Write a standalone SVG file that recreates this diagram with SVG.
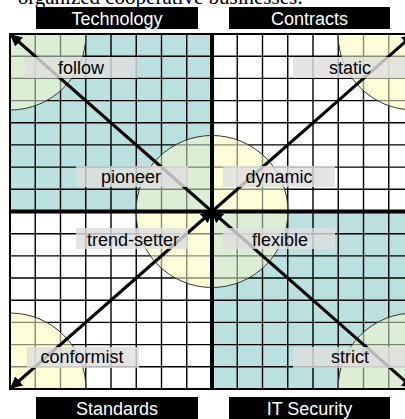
<svg xmlns="http://www.w3.org/2000/svg" width="405" height="419" viewBox="0 0 405 419">
<style>
.hdr{fill:#000}
.hdrt{fill:#fff;font-family:"Liberation Sans",Arial,sans-serif;font-size:18px;text-anchor:middle}
.lbl{fill:#dedede;fill-opacity:0.82}
.lblt{fill:#000;font-family:"Liberation Sans",Arial,sans-serif;font-size:18px;text-anchor:middle}
.grid{stroke:#000;stroke-width:1.4;fill:none}
.circ{stroke:#333;stroke-width:1;fill:none}
.diag{stroke:#000;stroke-width:3;fill:none}
.g{fill:#dcefd4}
.y{fill:#fdfdd8}
</style>
<defs>
<clipPath id="gc"><rect x="10" y="34" width="404" height="355"/></clipPath>
<marker id="ah" viewBox="0 0 10 10" refX="9" refY="5" markerWidth="4" markerHeight="4" orient="auto-start-reverse" markerUnits="strokeWidth">
<path d="M0,0 L10,5 L0,10 z" fill="#000"/>
</marker>
</defs>
<rect width="405" height="419" fill="#fff"/>
<text x="303" y="4" font-family="'Liberation Serif',serif" font-size="21" text-anchor="end">organized cooperative businesses:</text>
<g id="quadrants" clip-path="url(#gc)">
<rect x="10" y="34" width="202" height="177.5" fill="#bae0e0"/>
<rect x="212" y="34" width="202" height="177.5" fill="#fff"/>
<rect x="10" y="211.5" width="202" height="177.5" fill="#fff"/>
<rect x="212" y="211.5" width="202" height="177.5" fill="#bae0e0"/>
<g id="circlefills">
<circle cx="10" cy="34" r="76" class="g"/>
<circle cx="414" cy="34" r="76" class="y"/>
<circle cx="10" cy="389" r="76" class="y"/>
<circle cx="414" cy="389" r="76" class="g"/>
<path d="M212,211.5 L136,211.5 A76,76 0 0 1 212,135.5 z" class="g"/>
<path d="M212,211.5 L212,135.5 A76,76 0 0 1 288,211.5 z" class="y"/>
<path d="M212,211.5 L288,211.5 A76,76 0 0 1 212,287.5 z" class="g"/>
<path d="M212,211.5 L212,287.5 A76,76 0 0 1 136,211.5 z" class="y"/>
</g>
<path class="grid" d="M35.25,34V389M60.5,34V389M85.75,34V389M111,34V389M136.25,34V389M161.5,34V389M186.75,34V389M237.25,34V389M262.5,34V389M287.75,34V389M313,34V389M338.25,34V389M363.5,34V389M388.75,34V389M10,56.2H414M10,78.4H414M10,100.6H414M10,122.8H414M10,144.9H414M10,167.1H414M10,189.3H414M10,233.7H414M10,255.9H414M10,278H414M10,300.2H414M10,322.4H414M10,344.6H414M10,366.8H414"/>
<g opacity="0.55">
<circle cx="10" cy="34" r="76" class="g"/>
<circle cx="414" cy="34" r="76" class="y"/>
<circle cx="10" cy="389" r="76" class="y"/>
<circle cx="414" cy="389" r="76" class="g"/>
<path d="M212,211.5 L136,211.5 A76,76 0 0 1 212,135.5 z" class="g"/>
<path d="M212,211.5 L212,135.5 A76,76 0 0 1 288,211.5 z" class="y"/>
<path d="M212,211.5 L288,211.5 A76,76 0 0 1 212,287.5 z" class="g"/>
<path d="M212,211.5 L212,287.5 A76,76 0 0 1 136,211.5 z" class="y"/>
</g>
<circle cx="10" cy="34" r="76" class="circ"/>
<circle cx="414" cy="34" r="76" class="circ"/>
<circle cx="10" cy="389" r="76" class="circ"/>
<circle cx="414" cy="389" r="76" class="circ"/>
<circle cx="212" cy="211.5" r="76" class="circ"/>
</g>
<rect x="10" y="34" width="404" height="355" fill="none" stroke="#000" stroke-width="2"/>
<path d="M212,34V389M10,211.5H414" stroke="#000" stroke-width="4"/>
<g id="connectors">
<line x1="212" y1="211.5" x2="11" y2="35" class="diag" marker-end="url(#ah)"/>
<line x1="212" y1="211.5" x2="413" y2="35" class="diag" marker-end="url(#ah)"/>
<line x1="11" y1="388" x2="212" y2="211.5" class="diag" marker-start="url(#ah)" marker-end="url(#ah)"/>
<line x1="413" y1="388" x2="212" y2="211.5" class="diag" marker-start="url(#ah)" marker-end="url(#ah)"/>
</g>
<g id="follow"><rect x="25" y="57" width="112" height="21" class="lbl"/><text x="81" y="74" class="lblt">follow</text></g>
<g id="static"><rect x="293" y="57" width="114" height="21" class="lbl"/><text x="350" y="74" class="lblt">static</text></g>
<g id="pioneer"><rect x="76" y="166" width="112" height="21" class="lbl"/><text x="131" y="183" class="lblt">pioneer</text></g>
<g id="dynamic"><rect x="223" y="166" width="112" height="21" class="lbl"/><text x="279" y="183" class="lblt">dynamic</text></g>
<g id="trend-setter"><rect x="76" y="228" width="112" height="21" class="lbl"/><text x="133" y="246" class="lblt">trend-setter</text></g>
<g id="flexible"><rect x="223" y="228" width="112" height="21" class="lbl"/><text x="280" y="246" class="lblt">flexible</text></g>
<g id="conformist"><rect x="27" y="347" width="112" height="21" class="lbl"/><text x="82" y="363" class="lblt">conformist</text></g>
<g id="strict"><rect x="293" y="347" width="114" height="21" class="lbl"/><text x="350" y="363" class="lblt">strict</text></g>
<g id="technology"><rect x="36" y="7" width="162" height="22" class="hdr"/><text x="117" y="25" class="hdrt">Technology</text></g>
<g id="contracts"><rect x="229" y="7" width="161" height="22" class="hdr"/><text x="309.5" y="25" class="hdrt">Contracts</text></g>
<g id="standards"><rect x="36" y="397" width="162" height="24" class="hdr"/><text x="117" y="415" class="hdrt">Standards</text></g>
<g id="itsecurity"><rect x="229" y="397" width="161" height="24" class="hdr"/><text x="309.5" y="415" class="hdrt">IT Security</text></g>
</svg>
